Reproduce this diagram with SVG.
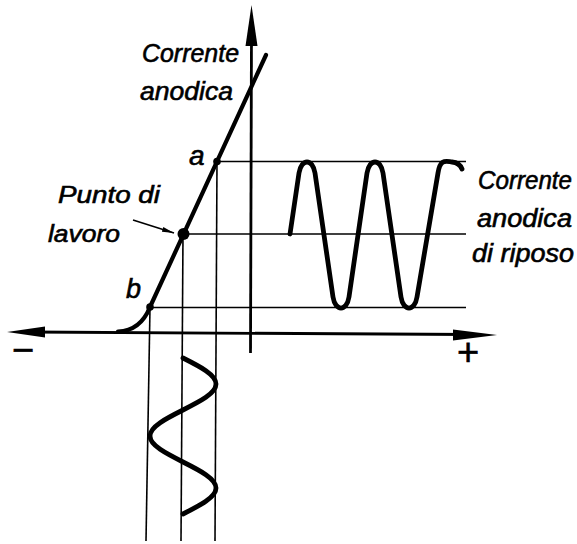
<svg xmlns="http://www.w3.org/2000/svg" width="577" height="544" viewBox="0 0 577 544">
  <defs>
    <style>
      .axis { stroke:#000; stroke-width:2.8; fill:none; }
      .grid { stroke:#000; stroke-width:1.6; fill:none; }
      .curve { stroke:#000; stroke-width:4.2; fill:none; stroke-linecap:round; stroke-linejoin:round; }
      .wave { stroke:#000; stroke-width:4.8; fill:none; stroke-linecap:round; stroke-linejoin:round; }
      .head { fill:#000; stroke:none; }
      .lbl { font-family:"Liberation Sans", Arial, sans-serif; font-style:italic; font-size:25px; fill:#000; stroke:#000; stroke-width:0.6; }
      .sign { font-family:"Liberation Sans", Arial, sans-serif; font-size:38px; fill:#000; stroke:#000; stroke-width:0.6; text-anchor:middle; }
    </style>
    <marker id="arr" viewBox="0 0 12 6" refX="12" refY="3" markerWidth="12" markerHeight="6" markerUnits="userSpaceOnUse" orient="auto">
      <path d="M0,0.6 L12,3 L0,5.4 Z" fill="#000"/>
    </marker>
  </defs>

  <g id="axes">
    <line class="axis" x1="30" y1="332" x2="470" y2="334.5"/>
    <polygon class="head" points="7,332 45,326.5 45,337.5"/>
    <polygon class="head" points="497,335 453,329.5 453,340.5"/>
    <line class="axis" x1="251.5" y1="30" x2="250.5" y2="353"/>
    <polygon class="head" points="251.5,5 245.5,46 257.5,46"/>
  </g>

  <g id="connectors">
    <line class="grid" x1="217" y1="161.5" x2="466" y2="161.5"/>
    <line class="grid" x1="183" y1="234" x2="466" y2="234"/>
    <line class="grid" x1="150" y1="307.5" x2="466" y2="307.5"/>
    <line class="grid" x1="150" y1="307" x2="146" y2="541"/>
    <line class="grid" x1="183" y1="234" x2="181" y2="541"/>
    <line class="grid" x1="217" y1="161" x2="215" y2="541"/>
    <line stroke="#000" stroke-width="1.6" x1="133" y1="220" x2="174" y2="233" marker-end="url(#arr)"/>
  </g>

  <g id="characteristic">
    <path class="curve" d="M118,331.5 C133,331 144,322 150,307 L266,55"/>
    <circle cx="217" cy="161.5" r="3.8"/>
    <circle cx="150" cy="307" r="3.8"/>
    <circle cx="183.5" cy="234" r="6"/>
  </g>

  <g id="output-wave">
    <path class="wave" d="M290,234 L299,173 C301.29,158.3 312.71,158.3 315,173 L333,297 C335.29,311.7 346.71,311.7 349,297 L367,173 C369.29,158.3 380.71,158.3 383,173 L401,297 C403.29,311.7 414.71,311.7 417,297 L438,173 C440.3,158.5 446,161.5 452,162 C457,162.5 460,164 462,169"/>
  </g>

  <g id="input-wave">
    <path class="wave" d="M183,358 C199.9,366.5 216,374.6 216,384 C216,393.4 199.9,401.5 183,410 C166.1,418.5 150,426.6 150,436 C150,445.4 166.1,453.5 183,462 C199.9,470.5 216,478.6 216,488 C216,497.4 199.9,505.5 183,514"/>
  </g>

  <g id="labels">
    <text class="lbl" x="142" y="62" textLength="97" lengthAdjust="spacingAndGlyphs">Corrente</text>
    <text class="lbl" x="140" y="100" textLength="93" lengthAdjust="spacingAndGlyphs">anodica</text>
    <text class="lbl" x="189" y="165" style="font-size:28px">a</text>
    <text class="lbl" x="58" y="203" textLength="102" lengthAdjust="spacingAndGlyphs" style="font-size:24px">Punto di</text>
    <text class="lbl" x="48" y="242" textLength="72" lengthAdjust="spacingAndGlyphs" style="font-size:24px">lavoro</text>
    <text class="lbl" x="126" y="298" style="font-size:27px">b</text>
    <text class="lbl" x="478" y="189" textLength="94" lengthAdjust="spacingAndGlyphs">Corrente</text>
    <text class="lbl" x="477" y="227" textLength="95" lengthAdjust="spacingAndGlyphs">anodica</text>
    <text class="lbl" x="472" y="262" textLength="102" lengthAdjust="spacingAndGlyphs">di riposo</text>
    <text class="sign" x="468" y="365">+</text>
    <text class="sign" x="23" y="363">−</text>
  </g>
</svg>
